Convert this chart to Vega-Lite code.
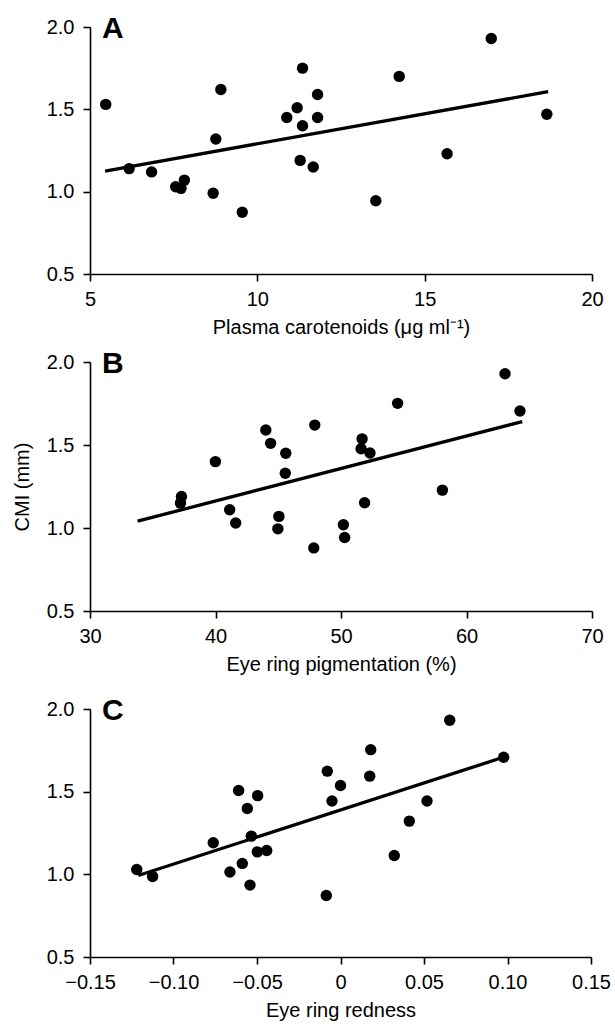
{
  "$schema": "https://vega.github.io/schema/vega-lite/v6.json",
  "padding": {"left": 12, "top": 14, "right": 5, "bottom": 2},
  "background": "white",
  "config": {
    "font": "Liberation Sans",
    "view": {"stroke": null},
    "axis": {"grid": false, "domainColor": "#000", "domainWidth": 1.6, "tickColor": "#000", "tickWidth": 1.6, "tickSize": 7, "labelFontSize": 20, "labelColor": "#000", "titleFontSize": 20, "titleFontWeight": "normal", "titleColor": "#000", "labelFlush": false, "labelOverlap": false},
    "axisX": {"titlePadding": 8, "labelPadding": 8},
    "axisY": {"titlePadding": 14, "labelPadding": 9}
  },
  "datasets": {
    "a": [{"x":5.47,"y":1.53},{"x":6.17,"y":1.14},{"x":6.84,"y":1.12},{"x":7.56,"y":1.03},{"x":7.72,"y":1.02},{"x":7.82,"y":1.07},{"x":8.68,"y":0.99},{"x":8.76,"y":1.32},{"x":8.91,"y":1.62},{"x":9.55,"y":0.875},{"x":10.88,"y":1.45},{"x":11.19,"y":1.51},{"x":11.35,"y":1.75},{"x":11.35,"y":1.40},{"x":11.28,"y":1.19},{"x":11.67,"y":1.15},{"x":11.80,"y":1.59},{"x":11.80,"y":1.45},{"x":13.54,"y":0.945},{"x":14.24,"y":1.70},{"x":15.67,"y":1.23},{"x":16.99,"y":1.93},{"x":18.65,"y":1.47}],
    "aFit": [{"x":5.45,"y":1.125},{"x":18.69,"y":1.607}],
    "b": [{"x":37.29,"y":1.19},{"x":37.21,"y":1.15},{"x":39.99,"y":1.40},{"x":41.13,"y":1.11},{"x":41.61,"y":1.03},{"x":44.01,"y":1.59},{"x":44.39,"y":1.51},{"x":45.05,"y":1.07},{"x":44.97,"y":0.995},{"x":45.6,"y":1.45},{"x":45.56,"y":1.33},{"x":47.83,"y":0.88},{"x":47.91,"y":1.62},{"x":50.19,"y":1.02},{"x":50.29,"y":0.943},{"x":51.68,"y":1.537},{"x":51.6,"y":1.477},{"x":52.31,"y":1.452},{"x":51.88,"y":1.152},{"x":54.51,"y":1.751},{"x":58.08,"y":1.228},{"x":63.07,"y":1.929},{"x":64.26,"y":1.705}],
    "bFit": [{"x":33.79,"y":1.041},{"x":64.44,"y":1.641}],
    "c": [{"x":-0.122,"y":1.029},{"x":-0.1125,"y":0.987},{"x":-0.0762,"y":1.191},{"x":-0.0662,"y":1.014},{"x":-0.061,"y":1.507},{"x":-0.0588,"y":1.066},{"x":-0.0558,"y":1.398},{"x":-0.0542,"y":0.935},{"x":-0.0534,"y":1.231},{"x":-0.0496,"y":1.476},{"x":-0.0498,"y":1.136},{"x":-0.0442,"y":1.144},{"x":-0.0085,"y":0.872},{"x":-0.0079,"y":1.624},{"x":-0.0051,"y":1.444},{"x":0.0,"y":1.537},{"x":0.0175,"y":1.594},{"x":0.0181,"y":1.754},{"x":0.0322,"y":1.114},{"x":0.0412,"y":1.322},{"x":0.0518,"y":1.444},{"x":0.0654,"y":1.932},{"x":0.0977,"y":1.708}],
    "cFit": [{"x":-0.1211,"y":0.993},{"x":0.0975,"y":1.708}],
    "labels": [{"panel":"A"},{"panel":"B"},{"panel":"C"}]
  },
  "vconcat": [
    {
      "spacing": 12,
      "vconcat": [
        {
          "width": 502, "height": 247,
          "layer": [
            {"data": {"name": "a"}, "mark": {"type": "point", "filled": true, "shape": "circle", "color": "#000", "opacity": 1, "size": 130},
             "encoding": {
               "x": {"field": "x", "type": "quantitative", "scale": {"domain": [5, 20], "nice": false, "zero": false}, "axis": {"values": [5, 10, 15, 20], "title": "Plasma carotenoids (μg ml⁻¹)"}},
               "y": {"field": "y", "type": "quantitative", "scale": {"domain": [0.5, 2], "nice": false, "zero": false}, "axis": {"values": [0.5, 1, 1.5, 2], "format": ".1f", "title": " "}}
             }},
            {"data": {"name": "aFit"}, "mark": {"type": "line", "color": "#000", "strokeWidth": 3.3},
             "encoding": {
               "x": {"field": "x", "type": "quantitative", "title": "Plasma carotenoids (μg ml⁻¹)"},
               "y": {"field": "y", "type": "quantitative", "title": " "}
             }},
            {"data": {"name": "labels"}, "transform": [{"filter": "datum.panel == 'A'"}], "mark": {"type": "text", "align": "left", "baseline": "middle", "dx": 12, "dy": 2, "fontSize": 30, "fontWeight": "bold", "color": "#000"},
             "encoding": {"x": {"datum": 5, "type": "quantitative"}, "y": {"datum": 2, "type": "quantitative"}, "text": {"field": "panel"}}}
          ]
        },
        {
          "width": 502, "height": 249,
          "layer": [
            {"data": {"name": "b"}, "mark": {"type": "point", "filled": true, "shape": "circle", "color": "#000", "opacity": 1, "size": 130},
             "encoding": {
               "x": {"field": "x", "type": "quantitative", "scale": {"domain": [30, 70], "nice": false, "zero": false}, "axis": {"values": [30, 40, 50, 60, 70], "title": "Eye ring pigmentation (%)"}},
               "y": {"field": "y", "type": "quantitative", "scale": {"domain": [0.5, 2], "nice": false, "zero": false}, "axis": {"values": [0.5, 1, 1.5, 2], "format": ".1f", "title": "CMI (mm)"}}
             }},
            {"data": {"name": "bFit"}, "mark": {"type": "line", "color": "#000", "strokeWidth": 3.3},
             "encoding": {
               "x": {"field": "x", "type": "quantitative", "title": "Eye ring pigmentation (%)"},
               "y": {"field": "y", "type": "quantitative", "title": "CMI (mm)"}
             }},
            {"data": {"name": "labels"}, "transform": [{"filter": "datum.panel == 'B'"}], "mark": {"type": "text", "align": "left", "baseline": "middle", "dx": 12, "dy": 2, "fontSize": 30, "fontWeight": "bold", "color": "#000"},
             "encoding": {"x": {"datum": 30, "type": "quantitative"}, "y": {"datum": 2, "type": "quantitative"}, "text": {"field": "panel"}}}
          ]
        }
      ]
    },
    {
      "width": 501, "height": 248,
      "layer": [
        {"data": {"name": "c"}, "mark": {"type": "point", "filled": true, "shape": "circle", "color": "#000", "opacity": 1, "size": 130},
         "encoding": {
           "x": {"field": "x", "type": "quantitative", "scale": {"domain": [-0.15, 0.15], "nice": false, "zero": false}, "axis": {"values": [-0.15, -0.1, -0.05, 0, 0.05, 0.1, 0.15], "labelExpr": "datum.value == 0 ? '0' : replace(format(datum.value, '.2f'), '-', '−')", "title": "Eye ring redness"}},
           "y": {"field": "y", "type": "quantitative", "scale": {"domain": [0.5, 2], "nice": false, "zero": false}, "axis": {"values": [0.5, 1, 1.5, 2], "format": ".1f", "title": " "}}
         }},
        {"data": {"name": "cFit"}, "mark": {"type": "line", "color": "#000", "strokeWidth": 3.3},
         "encoding": {
           "x": {"field": "x", "type": "quantitative", "title": "Eye ring redness"},
           "y": {"field": "y", "type": "quantitative", "title": " "}
         }},
        {"data": {"name": "labels"}, "transform": [{"filter": "datum.panel == 'C'"}], "mark": {"type": "text", "align": "left", "baseline": "middle", "dx": 12, "dy": 2, "fontSize": 30, "fontWeight": "bold", "color": "#000"},
         "encoding": {"x": {"datum": -0.15, "type": "quantitative"}, "y": {"datum": 2, "type": "quantitative"}, "text": {"field": "panel"}}}
      ]
    }
  ],
  "spacing": 22
}
